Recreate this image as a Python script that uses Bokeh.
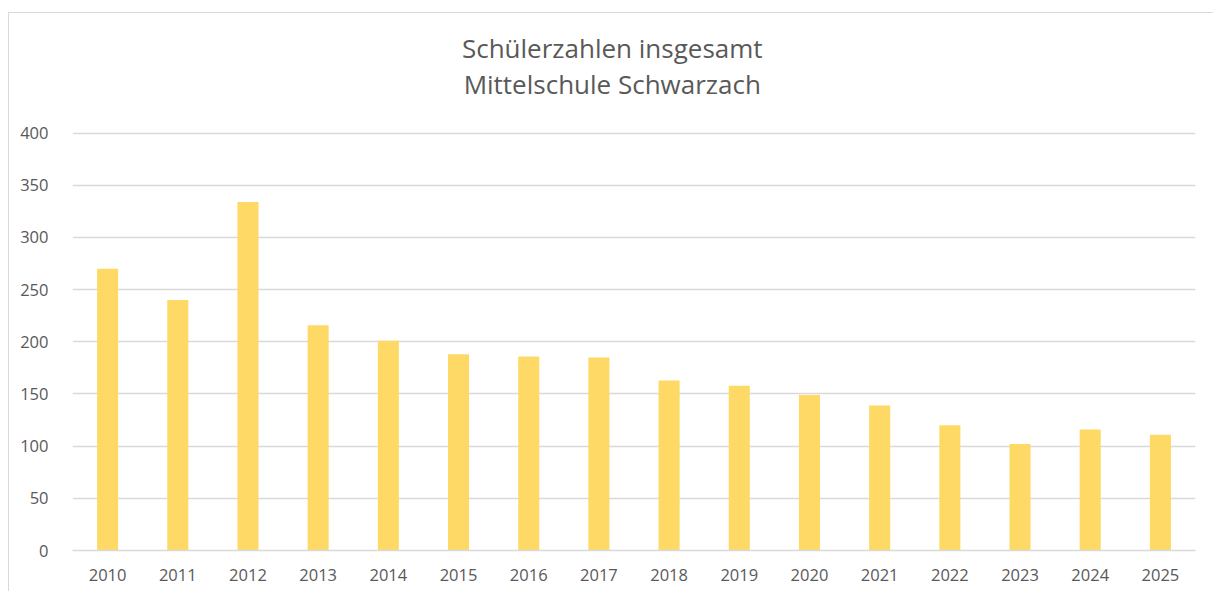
from bokeh.plotting import figure
from bokeh.models import ColumnDataSource, FactorRange, Range1d, FixedTicker, Label
from bokeh.embed import file_html
from bokeh.resources import INLINE

years = [str(y) for y in range(2010, 2026)]
students = [270, 240, 334, 216, 201, 188, 186, 185, 163, 158, 149, 139, 120, 102, 116, 111]
y_ticks = [0, 50, 100, 150, 200, 250, 300, 350, 400]
title_lines = ["Schülerzahlen insgesamt", "Mittelschule Schwarzach"]

FONT = "Open Sans"
TXT = "#595959"
GRID = "#d9d9d9"

src = ColumnDataSource(dict(year=years, n=students))

# the frame reaches up into the title area; grid lines stop at 400
p = figure(width=1205, height=579, x_range=FactorRange(*years, range_padding=0),
           y_range=Range1d(0, 507), output_backend="svg", toolbar_location=None,
           min_border_left=63, min_border_right=19, min_border_top=8, min_border_bottom=42)
p.styles = {"margin-top": "12px", "margin-left": "8px",
            "border-left": "1px solid #d9d9d9", "border-top": "1px solid #d9d9d9"}

p.vbar(x="year", top="n", width=0.3, source=src, fill_color="#FFD966", line_color=None)

p.outline_line_color = None
p.xgrid.grid_line_color = None
p.ygrid.grid_line_color = GRID
p.ygrid.grid_line_width = 1.5
p.yaxis.ticker = FixedTicker(ticks=y_ticks)
p.yaxis.axis_line_color = None
p.yaxis.major_tick_line_color = None
p.yaxis.minor_tick_line_color = None
p.yaxis.major_label_standoff = 18
p.xaxis.axis_line_color = GRID
p.xaxis.axis_line_width = 1.5
p.xaxis.major_tick_line_color = None
p.xaxis.minor_tick_line_color = None
p.xaxis.major_label_standoff = 12
for ax in (p.xaxis, p.yaxis):
    ax.major_label_text_font = FONT
    ax.major_label_text_font_size = "16.5px"
    ax.major_label_text_color = TXT

for txt, yy in zip(title_lines, [482.0, 447.5]):
    p.add_layout(Label(x=7.69, y=yy, text=txt, text_align="center", text_baseline="alphabetic",
                       text_font=FONT, text_font_size="26px", text_color=TXT))

open("out.html", "w").write(file_html(p, INLINE))
